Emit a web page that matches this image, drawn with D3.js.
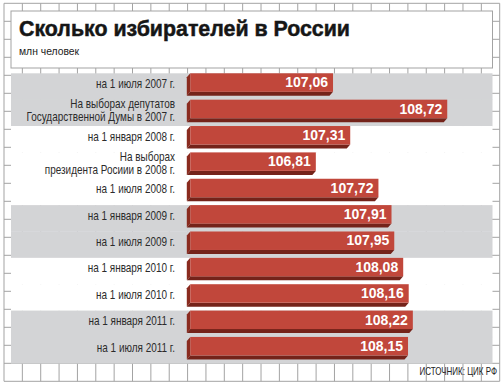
<!DOCTYPE html>
<html><head><meta charset="utf-8">
<script src="https://cdn.jsdelivr.net/npm/d3@7"></script>
<style>
html,body{margin:0;padding:0;background:#fff;}
svg{display:block;}
</style></head>
<body>
<svg id="chart" width="504" height="385"></svg>
<script>
// ---- data ----
const categories = [
  ["на 1 июля 2007 г."],
  ["На выборах депутатов", "Государственной Думы в  2007 г."],
  ["на 1 января 2008 г."],
  ["На выборах", "президента Росиии в 2008 г."],
  ["на 1 июля 2008 г."],
  ["на 1 января 2009 г."],
  ["на 1 июля 2009 г."],
  ["на 1 января 2010 г."],
  ["на 1 июля 2010 г."],
  ["на 1 января 2011 г."],
  ["на 1 июля 2011 г."]
];
const values = [107.06, 108.72, 107.31, 106.81, 107.72, 107.91, 107.95, 108.08, 108.16, 108.22, 108.15];
const shaded = [true, true, false, false, false, true, true, false, false, true, true];
const titleText = "Сколько избирателей в России";
const subtitleText = "млн человек";
const sourceText = "ИСТОЧНИК: ЦИК РФ";

// ---- drawing ----
const svg = d3.select("#chart");
const narrowFont = "'Liberation Sans', Arial, sans-serif";

// graph-paper grid
const gridX0 = 4, gridX1 = 499.7, gridY0 = 3.3, gridY1 = 381.3;
const nCols = 27, nRows = 21;
const grid = svg.append("g").attr("stroke", "#a3a3a3").attr("stroke-width", 1).attr("fill", "none");
d3.range(nCols + 1).forEach(k => {
  const gx = gridX0 + k * (gridX1 - gridX0) / nCols;
  grid.append("line").attr("x1", gx).attr("x2", gx).attr("y1", gridY0).attr("y2", gridY1);
});
d3.range(nRows + 1).forEach(k => {
  const gy = gridY0 + k * (gridY1 - gridY0) / nRows;
  grid.append("line").attr("x1", gridX0).attr("x2", gridX1).attr("y1", gy).attr("y2", gy);
});

// title panel
const panelX0 = 11, panelX1 = 492.5;
svg.append("rect").attr("x", panelX0).attr("y", 11).attr("width", panelX1 - panelX0).attr("height", 57)
  .attr("fill", "#fff").attr("stroke", "#a3a3a3").attr("stroke-width", 1);

svg.append("text").attr("x", 19).attr("y", 36)
  .attr("font-family", "'Liberation Sans', Arial, sans-serif").attr("font-weight", "bold")
  .attr("font-size", 22).attr("fill", "#161616")
  .attr("stroke", "#161616").attr("stroke-width", 0.5)
  .attr("textLength", 331).attr("lengthAdjust", "spacingAndGlyphs")
  .text(titleText);

svg.append("text").attr("transform", "translate(19,55) scale(0.9,1)")
  .attr("font-family", narrowFont)
  .attr("font-size", 11.5).attr("fill", "#222")
  .text(subtitleText);

// scales
const y = d3.scaleBand().domain(d3.range(values.length)).range([73.3, 363.3]).paddingInner(0).paddingOuter(0);
const x = d3.scaleLinear().domain([105, 109]).range([191.3, 466.5]);

// row backgrounds
svg.append("g").selectAll("rect").data(values).join("rect")
  .attr("x", panelX0).attr("width", panelX1 - panelX0)
  .attr("y", (d, i) => y(i)).attr("height", y.bandwidth() + 0.3)
  .attr("fill", (d, i) => shaded[i] ? "#d3d4d6" : "#fff");

// bars (extruded)
const faceH = 18.5, dx = -3.5, dy = 4;
const bars = svg.append("g");
values.forEach((v, i) => {
  const x0 = x(105) - 1, x1 = x(v), y0 = y(i), y1 = y(i) + faceH;
  bars.append("polygon")
    .attr("points", [[x0, y0], [x0, y1], [x0 + dx, y1 + dy], [x0 + dx, y0 + dy]].map(p => p.join(",")).join(" "))
    .attr("fill", "#8a2b1f");
  bars.append("polygon")
    .attr("points", [[x0, y1], [x1, y1], [x1 + dx, y1 + dy], [x0 + dx, y1 + dy]].map(p => p.join(",")).join(" "))
    .attr("fill", "#74231a");
  bars.append("rect").attr("x", x0).attr("y", y0).attr("width", x1 - x0).attr("height", faceH)
    .attr("fill", "#c1473b");
  bars.append("text").attr("x", x1 - 5).attr("y", y0 + 14)
    .attr("text-anchor", "end")
    .attr("font-family", "'Liberation Sans', Arial, sans-serif").attr("font-weight", "bold")
    .attr("font-size", 14).attr("fill", "#fff")
    .text(d3.format(".2f")(v).replace(".", ","));
});

// category labels (condensed)
const labels = svg.append("g")
  .attr("font-family", narrowFont)
  .attr("font-size", 12).attr("fill", "#2b2b2b").attr("text-anchor", "end");
categories.forEach((lines, i) => {
  const offs = lines.length === 1 ? [14.6] : [8.3, 21.5];
  lines.forEach((t, j) => {
    labels.append("text")
      .attr("transform", `translate(175,${y(i) + offs[j]}) scale(0.83,1)`)
      .text(t);
  });
});

// source
svg.append("text").attr("transform", "translate(497,375) scale(0.8,1)").attr("text-anchor", "end")
  .attr("font-family", narrowFont)
  .attr("font-size", 10).attr("fill", "#222")
  .text(sourceText);
</script>
</body></html>
